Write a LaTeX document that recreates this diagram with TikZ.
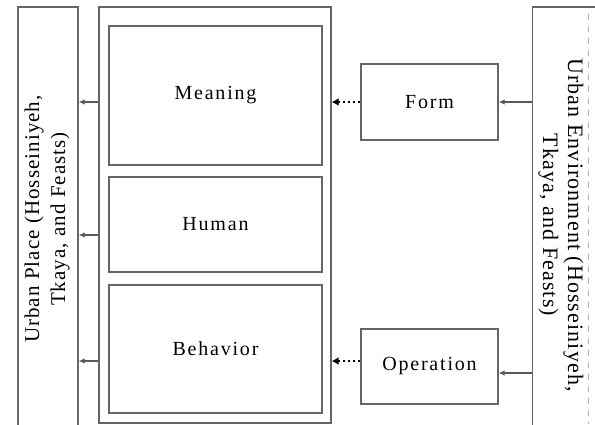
\documentclass[tikz,border=0pt]{standalone}
\usepackage{fontspec}
\setmainfont{Liberation Serif}[LetterSpace=9]
\newfontfamily\sidefont{Liberation Serif}[LetterSpace=5]
\usetikzlibrary{arrows.meta}

\begin{document}
\begin{tikzpicture}[x=0.5pt, y=-0.5pt,
  box/.style={draw=black!60, line width=0.65pt, inner sep=0pt,
    font=\fontsize{10}{12}\selectfont},
  side/.style={align=center, inner sep=0pt},
  arr/.style={draw=black!65, line width=0.75pt, -{Latex[length=3pt,width=2.8pt]}},
  dotarr/.style={line width=1.4pt, dash pattern=on 1.3pt off 1.2pt,
    -{Latex[length=3.5pt,width=4pt]}}]
  \useasboundingbox (0,0) rectangle (595,424);
  \clip (0,0) rectangle (595,424);

  % Urban place (left column)
  \node[box, minimum width=30pt, minimum height=212.5pt] (place) at (48,219.5) {};
  \node[side, rotate=90, font=\sidefont\fontsize{10.5}{13}\selectfont] (placetext) at (47,219)
    {Urban Place (Hosseiniyeh,\\Tkaya, and Feasts)};

  % Outer frame and its three parts
  \node[box, minimum width=116pt, minimum height=208pt] (frame) at (215,215) {};
  \node[box, minimum width=106.5pt, minimum height=69.5pt] (meaning) at (215.5,95.5) {Meaning};
  \node[box, minimum width=106.5pt, minimum height=47.5pt] (human) at (215.5,224.5) {Human};
  \node[box, minimum width=106.5pt, minimum height=64pt] (behavior) at (215.5,349) {Behavior};

  % Form and operation
  \node[box, minimum width=68.5pt, minimum height=38pt] (form) at (429.5,102) {Form};
  \node[box, minimum width=68.5pt, minimum height=37.5pt] (operation) at (429.5,366.5) {Operation};

  % Urban environment (right column)
  \node[box, minimum width=43.5pt, minimum height=212.5pt] (env) at (576,219.5) {};
  \node[side, rotate=-90, font=\sidefont\fontsize{11}{12.5}\selectfont] (envtext) at (561,225)
    {Urban Environment (Hosseiniyeh,\\Tkaya, and Feasts)};
  \draw[black!30, dashed] (588,14) -- (588,424);

  % Row levels of the connectors
  \coordinate (rowA) at (0,102);
  \coordinate (rowB) at (0,235);
  \coordinate (rowC) at (0,361);
  \coordinate (rowD) at (0,373);

  % Arrows out to the urban place
  \foreach \r in {rowA,rowB,rowC}
    \draw[arr] (frame.west |- \r) -- (place.east |- \r);

  % Dotted arrows into the frame
  \draw[dotarr] (form.west |- rowA) -- (frame.east |- rowA);
  \draw[dotarr] (operation.west |- rowC) -- (frame.east |- rowC);

  % Arrows from the urban environment
  \draw[arr] (env.west |- rowA) -- (form.east |- rowA);
  \draw[arr] (env.west |- rowD) -- (operation.east |- rowD);
\end{tikzpicture}
\end{document}
